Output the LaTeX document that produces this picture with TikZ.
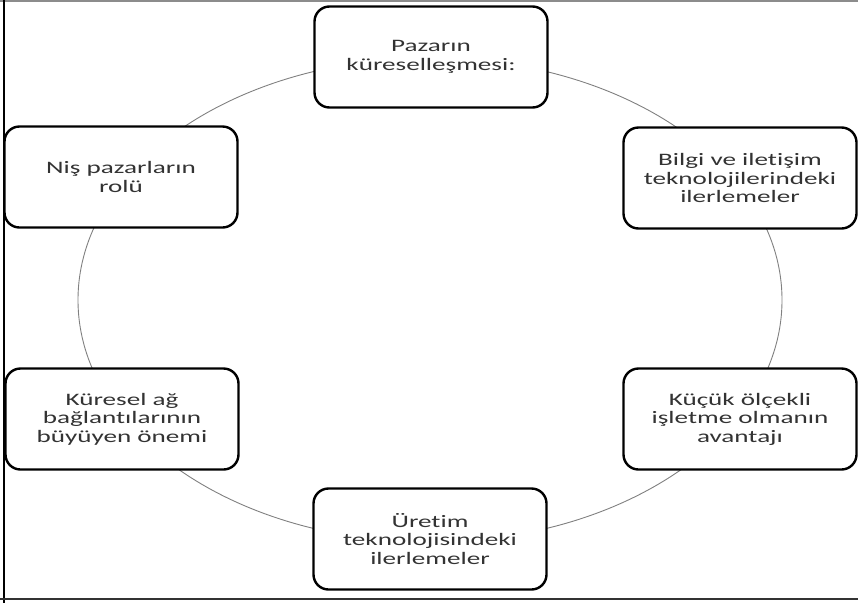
\documentclass[tikz,border=0pt]{standalone}
\usepackage{fontspec}
\newfontfamily\boxfont[FakeStretch=1.55,Ligatures={NoCommon,NoRare,NoDiscretionary}]{Carlito}
\begin{document}
\begin{tikzpicture}[x=1pt,y=-1pt,
  cyclebox/.style={draw=black, line width=2.4pt, rounded corners=15pt, fill=white,
    minimum width=233pt, minimum height=101pt, inner sep=0pt, align=center,
    font=\boxfont\fontsize{17.5}{18.5}\selectfont, text=black!80},
  ring/.style={draw=black!50, line width=0.9pt},
  frameline/.style={line width=2pt}]
\useasboundingbox (0,0) rectangle (858,603);
% frame
\draw[frameline, black!45] (0,1) -- (858,1);
\draw[frameline, black] (4,0) -- (4,603);
\draw[frameline, black!80] (0,599) -- (858,599);
% ring
\coordinate (c) at (430,300);
\draw[ring] (c) ellipse [x radius=352pt, y radius=242pt];
% nodes
\node[cyclebox] (n1) at (431,57) {Pazarın\\küreselleşmesi:};
\node[cyclebox] (n2) at (740,178) {Bilgi ve iletişim\\teknolojilerindeki\\ilerlemeler};
\node[cyclebox] (n3) at (740,419) {Küçük ölçekli\\işletme olmanın\\avantajı};
\node[cyclebox] (n4) at (430,539) {Üretim\\teknolojisindeki\\ilerlemeler};
\node[cyclebox] (n5) at (122,419) {Küresel ağ\\bağlantılarının\\büyüyen önemi};
\node[cyclebox] (n6) at (121,177) {Niş pazarların\\rolü};
\end{tikzpicture}
\end{document}
